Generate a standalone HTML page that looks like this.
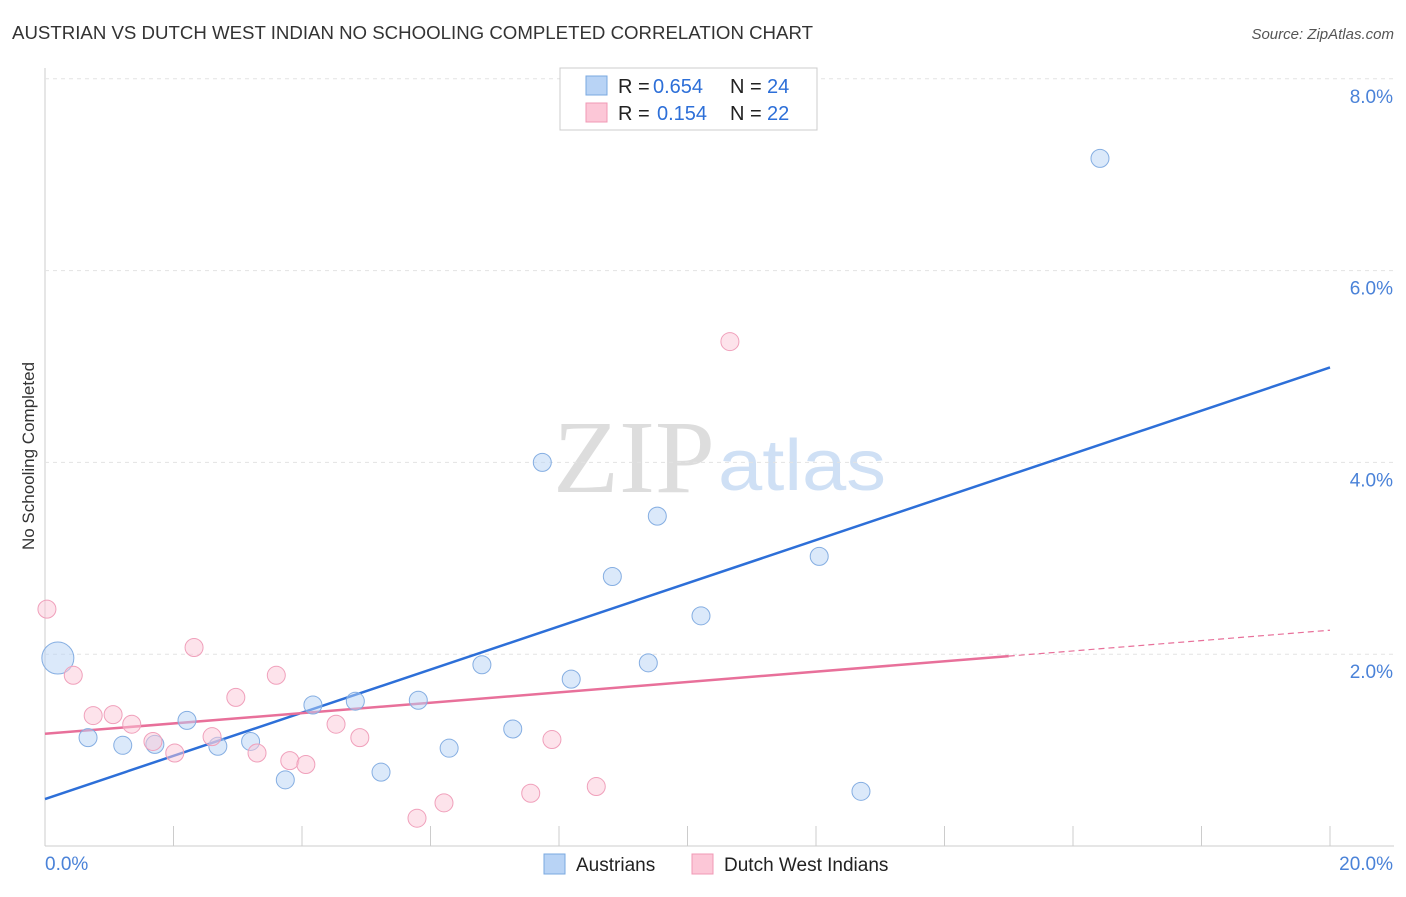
<!DOCTYPE html>
<html><head><meta charset="utf-8"><style>
body{margin:0;background:#fff;font-family:"Liberation Sans",sans-serif}
</style></head><body>
<svg width="1406" height="892" xmlns="http://www.w3.org/2000/svg">
<text x="12" y="39" font-size="18" fill="#333" textLength="801" lengthAdjust="spacingAndGlyphs">AUSTRIAN VS DUTCH WEST INDIAN NO SCHOOLING COMPLETED CORRELATION CHART</text>
<text x="1394" y="39" font-size="15" fill="#555" text-anchor="end" font-style="italic">Source: ZipAtlas.com</text>
<text x="34" y="456" font-size="17" fill="#333" text-anchor="middle" transform="rotate(-90 34 456)">No Schooling Completed</text>
<text x="553" y="492" font-size="104" fill="#ddd" font-family="Liberation Serif" textLength="162" lengthAdjust="spacingAndGlyphs">ZIP</text>
<text x="718" y="490" font-size="72" fill="#cfe0f5" textLength="168" lengthAdjust="spacingAndGlyphs">atlas</text>
<g id="grid"></g><g id="lines"></g><g id="pts"></g>
<g font-size="20">
<rect x="560" y="68" width="257" height="62" fill="#fff" stroke="#ccc"/>
<rect x="586" y="76" width="21" height="19" fill="#b8d3f5" stroke="#7aa8e0"/>
<rect x="586" y="103" width="21" height="19" fill="#fcc7d7" stroke="#f098b5"/>
<text x="618" y="93" fill="#222">R =</text><text x="653" y="93" fill="#2d6fd8">0.654</text>
<text x="730" y="93" fill="#222">N =</text><text x="767" y="93" fill="#2d6fd8">24</text>
<text x="618" y="120" fill="#222">R =</text><text x="657" y="120" fill="#2d6fd8">0.154</text>
<text x="730" y="120" fill="#222">N =</text><text x="767" y="120" fill="#2d6fd8">22</text>
</g>
<g>
<rect x="544" y="854" width="21" height="20" fill="#b8d3f5" stroke="#7aa8e0"/>
<text x="576" y="871" font-size="19" fill="#222">Austrians</text>
<rect x="692" y="854" width="21" height="20" fill="#fcc7d7" stroke="#f098b5"/>
<text x="724" y="871" font-size="19" fill="#222">Dutch West Indians</text>
</g>
</svg>
<script>
const yTicks=[2,4,6,8];
const xTickLabels=["0.0%","20.0%"];
const ausX=[0.2,0.67,1.21,1.71,2.21,2.69,3.2,3.74,4.17,4.83,5.23,5.81,6.29,6.8,7.28,7.74,8.19,8.83,9.39,9.53,10.21,12.05,12.7,16.42];
const ausY=[1.96,1.13,1.05,1.06,1.31,1.04,1.09,0.69,1.47,1.51,0.77,1.52,1.02,1.89,1.22,4.0,1.74,2.81,1.91,3.44,2.4,3.02,0.57,7.17];
const ausR=[16,9,9,9,9,9,9,9,9,9,9,9,9,9,9,9,9,9,9,9,9,9,9,9];
const dwiX=[0.03,0.44,0.75,1.06,1.35,1.68,2.02,2.32,2.6,2.97,3.3,3.6,3.81,4.06,4.53,4.9,5.79,6.21,7.56,7.89,8.58,10.66];
const dwiY=[2.47,1.78,1.36,1.37,1.27,1.09,0.97,2.07,1.14,1.55,0.97,1.78,0.89,0.85,1.27,1.13,0.29,0.45,0.55,1.11,0.62,5.26];
const ausLine=[[0,0.49],[20,4.99]];
const dwiLine=[[0,1.17],[15,1.98],[20,2.25]];
const X=v=>45+v*64.25, Y=v=>846-v*95.9;
const ns="http://www.w3.org/2000/svg";
function mk(p,t,a){const e=document.createElementNS(ns,t);for(const k in a)e.setAttribute(k,a[k]);document.getElementById(p).appendChild(e);return e;}
let ax=mk('grid','line',{x1:45,y1:68,x2:45,y2:846,stroke:'#ccc'});


let bx=mk('grid','line',{x1:45,y1:846,x2:1394,y2:846,stroke:'#ccc'});


yTicks.forEach(t=>{let g=mk('grid','line',{x1:45,x2:1394,y1:Y(t),y2:Y(t),stroke:'#e3e3e3','stroke-dasharray':'4 4'});


let l=mk('grid','text',{x:1393,y:Y(t)+24,'text-anchor':'end','font-size':19,fill:'#4a82d8'});l.textContent=t.toFixed(1)+'%';

});
for(let i=0;i<=10;i++){let t=mk('grid','line',{x1:X(i*2),x2:X(i*2),y1:826,y2:846,stroke:'#ccc'});

}
xTickLabels.forEach((s,i)=>{let l=mk('grid','text',{x:i?1393:45,y:870,'text-anchor':i?'end':'start','font-size':19,fill:'#4a82d8'});l.textContent=s;

});
ausX.forEach((x,i)=>{let c=mk('pts','circle',{cx:X(x),cy:Y(ausY[i]),r:ausR[i],fill:'rgba(184,211,245,0.5)',stroke:'#85aee2'});

});
dwiX.forEach((x,i)=>{let c=mk('pts','circle',{cx:X(x),cy:Y(dwiY[i]),r:9,fill:'rgba(252,199,215,0.5)',stroke:'#f0a0bb'});

});
let l1=mk('lines','line',{x1:X(ausLine[0][0]),y1:Y(ausLine[0][1]),x2:X(ausLine[1][0]),y2:Y(ausLine[1][1]),stroke:'#2d6fd8','stroke-width':2.5});


let l2=mk('lines','line',{x1:X(dwiLine[0][0]),y1:Y(dwiLine[0][1]),x2:X(dwiLine[1][0]),y2:Y(dwiLine[1][1]),stroke:'#e8709a','stroke-width':2.5});


let l3=mk('lines','line',{x1:X(dwiLine[1][0]),y1:Y(dwiLine[1][1]),x2:X(dwiLine[2][0]),y2:Y(dwiLine[2][1]),stroke:'#e8709a','stroke-width':1.2,'stroke-dasharray':'6 4'});


</script>
</body></html>
